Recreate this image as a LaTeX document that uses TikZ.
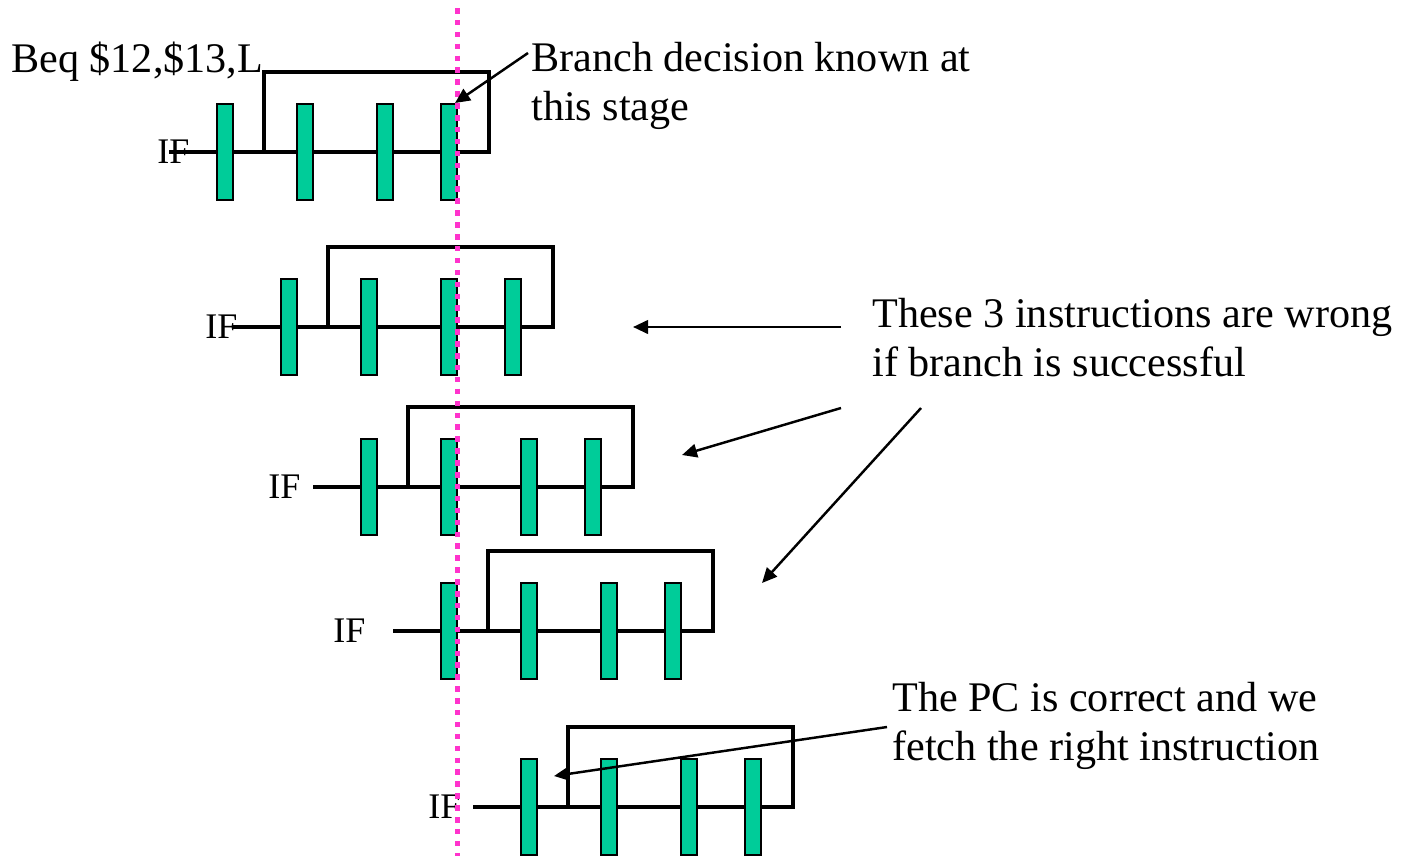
\documentclass[tikz,border=0pt]{standalone}
\usepackage{fontspec}
\setmainfont{Liberation Serif}
\usetikzlibrary{arrows.meta}
\definecolor{stagegreen}{RGB}{0,204,153}
\definecolor{markerpink}{RGB}{255,51,204}
\tikzset{
  stage/.style={draw=black,line width=1.4pt,fill=stagegreen,minimum width=0.32cm,minimum height=1.92cm,inner sep=0pt},
  pipe/.style={line width=2pt},
  note/.style={inner sep=0pt,align=left,font=\fontsize{24}{27.4}\selectfont},
  iftext/.style={inner sep=0pt,anchor=west,font=\fontsize{20.5}{24}\selectfont},
  pointer/.style={->,line width=1.4pt},
  decisionline/.style={draw=markerpink,line width=0.1cm,dash pattern=on 0.11cm off 0.128cm}
}
\begin{document}
\begin{tikzpicture}[x=0.02cm,y=-0.02cm,line join=miter,>={Triangle[length=0.3cm,width=0.27cm]}]
\useasboundingbox (0,0) rectangle (1408,856);
% instruction in the first row
\node[note,anchor=base west] (beq) at (11,72) {Beq \$12,\$13,L};
% five pipelines, one per row
\foreach \r/\y/\f/\l in {1/152/225/157,2/327/289/205,3/487/369/268,4/631/449/333,5/807/529/428}{
  \draw[pipe] (\f-56,\y) -- (\f+264,\y) -- (\f+264,\y-80) -- (\f+39,\y-80) -- (\f+39,\y);
  \foreach \i/\d in {1/0,2/80,3/160,4/224}
    \node[stage] (s\r\i) at (\f+\d,\y) {};
  \node[iftext] (if\r) at (\l,\y) {IF};
}
% where the branch is resolved
\draw[decisionline] (457,8) -- (457,856);
% comments (base = last line)
\node[note,anchor=base west] (decision) at (531,120) {Branch decision known at\\this stage};
\node[note,anchor=base west] (wrong) at (872,376) {These 3 instructions are wrong\\if branch is successful};
\node[note,anchor=base west] (right) at (892,760) {The PC is correct and we\\fetch the right instruction};
\coordinate (decisiontail) at (528,53);
\coordinate (decisiontip) at (455,103);
\coordinate (wrongtailA) at (841,327);
\coordinate (wrongtipA) at (633,327);
\coordinate (wrongtailB) at (841,408);
\coordinate (wrongtipB) at (682,455);
\coordinate (wrongtailC) at (921,408);
\coordinate (wrongtipC) at (762,583);
\coordinate (righttail) at (887,727);
\coordinate (righttip) at (554,776);
\draw[pointer] (decisiontail) -- (decisiontip);
\draw[pointer] (wrongtailA) -- (wrongtipA);
\draw[pointer] (wrongtailB) -- (wrongtipB);
\draw[pointer] (wrongtailC) -- (wrongtipC);
\draw[pointer] (righttail) -- (righttip);
\end{tikzpicture}
\end{document}
